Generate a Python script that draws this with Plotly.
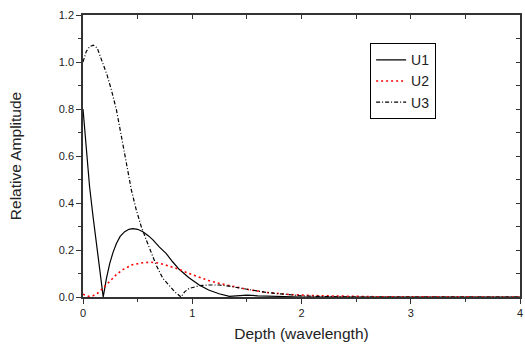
import plotly.graph_objects as go

# ---- data ----
u1_x = [0.0, 0.03, 0.06, 0.09, 0.12, 0.155, 0.185, 0.215, 0.245, 0.275, 0.306, 0.34, 0.382, 0.42, 0.457,
        0.50, 0.548, 0.60, 0.64, 0.70, 0.76, 0.82, 0.88, 0.97, 1.064, 1.15, 1.245, 1.34, 1.42, 1.5, 1.6, 1.8, 2.0, 4.0]
u1_y = [0.80, 0.62, 0.47, 0.35, 0.24, 0.115, 0.0, 0.08, 0.143, 0.19, 0.228, 0.258, 0.278, 0.288, 0.291,
        0.288, 0.278, 0.26, 0.243, 0.212, 0.186, 0.15, 0.118, 0.082, 0.051, 0.03, 0.014, 0.003, 0.006, 0.008, 0.005, 0.002, 0.0, 0.0]

u2_x = [0.0, 0.05, 0.09, 0.13, 0.185, 0.245, 0.30, 0.36, 0.45, 0.55, 0.62, 0.70, 0.76, 0.88, 0.97, 1.064,
        1.15, 1.245, 1.34, 1.43, 1.52, 1.67, 1.88, 2.1, 2.4, 2.7, 4.0]
u2_y = [0.012, 0.003, 0.005, 0.015, 0.038, 0.068, 0.093, 0.115, 0.137, 0.146, 0.148, 0.144, 0.135, 0.118, 0.1, 0.084,
        0.07, 0.058, 0.048, 0.04, 0.031, 0.02, 0.011, 0.006, 0.003, 0.001, 0.0]

u3_x = [0.0, 0.03, 0.06, 0.094, 0.13, 0.185, 0.22, 0.26, 0.306, 0.352, 0.397, 0.443, 0.488, 0.533, 0.579,
        0.624, 0.67, 0.73, 0.79, 0.84, 0.897, 0.93, 0.97, 1.02, 1.064, 1.15, 1.245, 1.34, 1.43, 1.5, 1.7, 2.0, 2.2, 2.5, 4.0]
u3_y = [1.0, 1.045, 1.065, 1.072, 1.06, 0.994, 0.945, 0.881, 0.796, 0.682, 0.569, 0.455, 0.37, 0.30, 0.243,
        0.186, 0.136, 0.08, 0.05, 0.022, 0.0, 0.022, 0.036, 0.044, 0.048, 0.051, 0.051, 0.046, 0.04, 0.033, 0.018, 0.005, 0.002, 0.0, 0.0]

x_ticks = [0, 1, 2, 3, 4]
y_ticks = [0.0, 0.2, 0.4, 0.6, 0.8, 1.0, 1.2]

FONT = "Liberation Sans, Arial, sans-serif"
AX = "#333333"

fig = go.Figure()
fig.add_trace(go.Scatter(x=u1_x, y=u1_y, name="U1", mode="lines",
                         line=dict(color="black", width=1.2)))
fig.add_trace(go.Scatter(x=u2_x, y=u2_y, name="U2", mode="lines",
                         line=dict(color="red", width=1.6, dash="2px,3px")))
fig.add_trace(go.Scatter(x=u3_x, y=u3_y, name="U3", mode="lines",
                         line=dict(color="black", width=1.2, dash="4px,2px,1px,2px")))
# empty trace to anchor the mirrored (top/right) axes
fig.add_trace(go.Scatter(x=[], y=[], xaxis="x2", yaxis="y2", showlegend=False, hoverinfo="skip"))

fig.update_layout(
    width=525, height=352,
    margin=dict(l=83, r=2, t=15, b=55),
    paper_bgcolor="white", plot_bgcolor="white",
    font=dict(family=FONT, color="#222", size=11),
    showlegend=True,
    legend=dict(x=0.657, y=0.90, xanchor="left", yanchor="top",
                bordercolor="black", borderwidth=1, bgcolor="white",
                font=dict(size=14, color="#222"), tracegroupgap=0),
    xaxis=dict(range=[0, 4], tickvals=x_ticks, ticks="outside", ticklen=5, tickwidth=1.2,
               tickcolor=AX, showline=True, linecolor=AX, linewidth=1.5, showgrid=False,
               zeroline=False, minor=dict(dtick=0.5, ticks="outside", ticklen=3, tickcolor=AX),
               title=dict(text="Depth (wavelength)", font=dict(size=15.5), standoff=10),
               tickfont=dict(size=11), ticklabeloverflow="allow"),
    yaxis=dict(range=[0, 1.2], tickvals=y_ticks, tickformat=".1f", ticks="outside", ticklen=5,
               tickwidth=1.2, tickcolor=AX, showline=True, linecolor=AX, linewidth=1.5,
               showgrid=False, zeroline=False,
               minor=dict(dtick=0.1, ticks="outside", ticklen=3, tickcolor=AX),
               title=dict(text="Relative Amplitude", font=dict(size=15.5), standoff=33),
               tickfont=dict(size=11), ticklabeloverflow="allow"),
    xaxis2=dict(range=[0, 4], overlaying="x", side="top", anchor="y2", dtick=0.5,
                ticks="inside", ticklen=4, tickcolor=AX, showticklabels=False,
                showline=True, linecolor=AX, linewidth=1.5, showgrid=False, zeroline=False),
    yaxis2=dict(range=[0, 1.2], overlaying="y", side="right", anchor="x2", dtick=0.1,
                ticks="inside", ticklen=4, tickcolor=AX, showticklabels=False,
                showline=True, linecolor=AX, linewidth=1.5, showgrid=False, zeroline=False),
)

fig.write_html("out.html")
